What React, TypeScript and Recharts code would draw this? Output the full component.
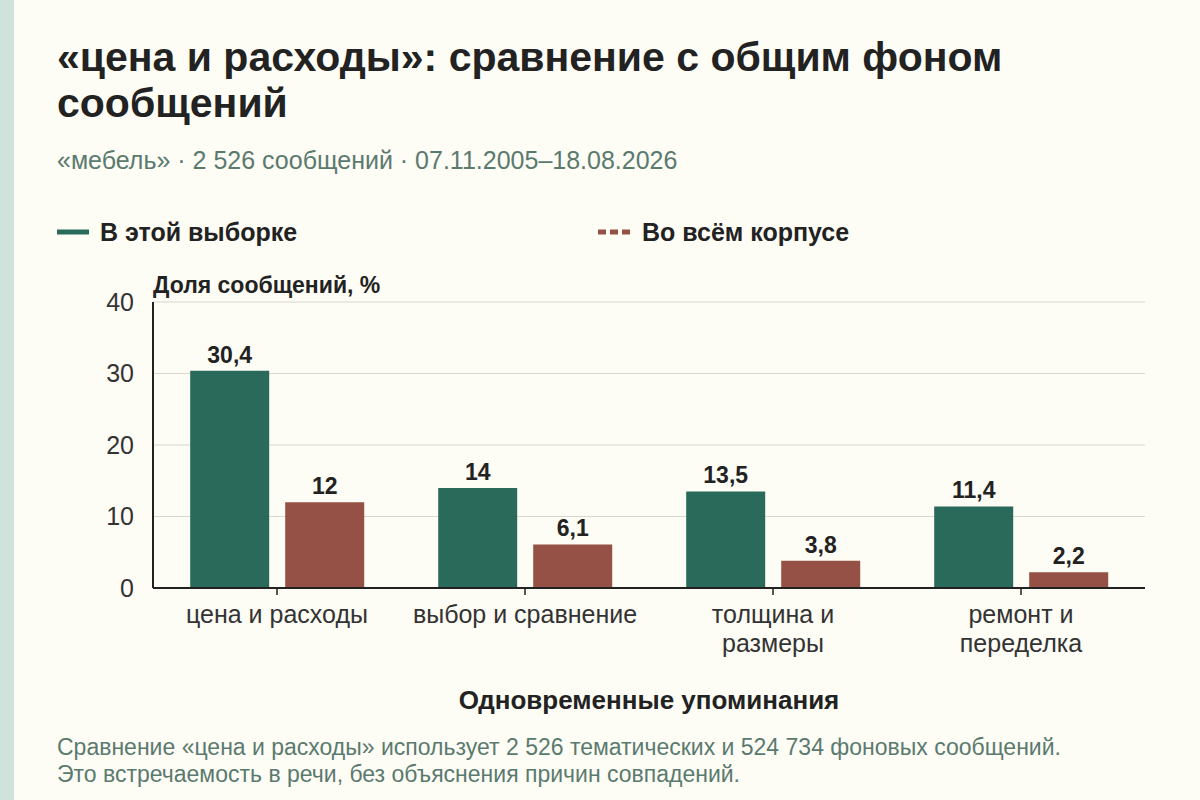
import React from "react";
import { BarChart, Bar, XAxis, YAxis, CartesianGrid, LabelList } from "recharts";

const categories = ["цена и расходы", "выбор и сравнение", "толщина и размеры", "ремонт и переделка"];
const categoryTickLines = [["цена и расходы"], ["выбор и сравнение"], ["толщина и", "размеры"], ["ремонт и", "переделка"]];
const sampleValues = [30.4, 14, 13.5, 11.4];
const corpusValues = [12, 6.1, 3.8, 2.2];
const yTicks = [0, 10, 20, 30, 40];

const data = categories.map((c, i) => ({ name: c, sample: sampleValues[i], corpus: corpusValues[i] }));

const FONT = "'Liberation Sans', Arial, Helvetica, sans-serif";
const GREEN = "#2a6a5a";
const RED = "#955146";
const BG = "#fdfcf5";
const MUTED = "#5b7a6f";

const fmt = (v: any) => String(v).replace(".", ",");

const CategoryTick = (props: any) => {
  const { x, y, payload, index } = props;
  const i = categories.indexOf(payload.value);
  const lines = categoryTickLines[i >= 0 ? i : index] || [String(payload.value)];
  return (
    <g>
      <line x1={x} x2={x} y1={y - 8} y2={y - 1} stroke="#222" strokeWidth={1.5} />
      <text
        x={x}
        y={y + 27}
        textAnchor="middle"
        fill="#333"
        style={{ fontFamily: FONT, fontSize: 25 }}
      >
        {lines.map((l: string, k: number) => (
          <tspan key={k} x={x} dy={k === 0 ? 0 : 29}>
            {l}
          </tspan>
        ))}
      </text>
    </g>
  );
};

export default function App() {
  return (
    <div
      style={{
        position: "absolute",
        left: 0,
        top: 0,
        width: 1200,
        height: 800,
        background: BG,
        fontFamily: FONT,
        overflow: "hidden",
      }}
    >
      <div style={{ position: "absolute", left: 0, top: 0, width: 14, height: 800, background: "#cfe2db" }} />
      <div
        style={{
          position: "absolute",
          left: 57,
          top: 34,
          width: 1090,
          fontSize: 41,
          fontWeight: 700,
          lineHeight: "46px",
          color: "#222",
        }}
      >
        «цена и расходы»: сравнение с общим фоном сообщений
      </div>
      <div style={{ position: "absolute", left: 57, top: 145, fontSize: 25, color: MUTED, lineHeight: "30px" }}>
        «мебель» · 2 526 сообщений · 07.11.2005–18.08.2026
      </div>
      <div style={{ position: "absolute", left: 57, top: 217, height: 30, display: "flex", alignItems: "center" }}>
        <svg width={32} height={10} style={{ marginRight: 11 }}>
          <line x1={0} x2={32} y1={5} y2={5} stroke={GREEN} strokeWidth={5} />
        </svg>
        <span style={{ fontSize: 25, fontWeight: 700, color: "#222" }}>В этой выборке</span>
      </div>
      <div style={{ position: "absolute", left: 598, top: 217, height: 30, display: "flex", alignItems: "center" }}>
        <svg width={32} height={10} style={{ marginRight: 12 }}>
          <line x1={0} x2={32} y1={5} y2={5} stroke={RED} strokeWidth={5} strokeDasharray="8 4" />
        </svg>
        <span style={{ fontSize: 25, fontWeight: 700, color: "#222" }}>Во всём корпусе</span>
      </div>
      <div style={{ position: "absolute", left: 153, top: 271, fontSize: 23, fontWeight: 700, color: "#222", lineHeight: "28px" }}>
        Доля сообщений, %
      </div>
      <div style={{ position: "absolute", left: 0, top: 0 }}>
        <BarChart
          width={1200}
          height={700}
          data={data}
          margin={{ top: 302, right: 55, bottom: 32, left: 93 }}
          barCategoryGap="15%"
          barGap={16}
        >
          <CartesianGrid vertical={false} stroke="#d9d8cf" strokeWidth={1.2} />
          <XAxis
            dataKey="name"
            height={80}
            axisLine={{ stroke: "#222", strokeWidth: 2 }}
            tickLine={false}
            tick={<CategoryTick />}
            interval={0}
          />
          <YAxis
            width={60}
            domain={[0, 40]}
            ticks={yTicks}
            axisLine={{ stroke: "#222", strokeWidth: 2 }}
            tickLine={false}
            tickMargin={13}
            tick={{ fill: "#333", fontSize: 25, fontFamily: FONT }}
          />
          <Bar dataKey="sample" fill={GREEN} isAnimationActive={false}>
            <LabelList
              dataKey="sample"
              position="top"
              offset={8}
              formatter={fmt}
              style={{ fontFamily: FONT, fontSize: 23, fontWeight: 700, fill: "#222" }}
            />
          </Bar>
          <Bar dataKey="corpus" fill={RED} isAnimationActive={false}>
            <LabelList
              dataKey="corpus"
              position="top"
              offset={8}
              formatter={fmt}
              style={{ fontFamily: FONT, fontSize: 23, fontWeight: 700, fill: "#222" }}
            />
          </Bar>
        </BarChart>
      </div>
      <div
        style={{
          position: "absolute",
          left: 153,
          width: 992,
          top: 685,
          textAlign: "center",
          fontSize: 26,
          fontWeight: 700,
          color: "#222",
          lineHeight: "30px",
        }}
      >
        Одновременные упоминания
      </div>
      <div style={{ position: "absolute", left: 57, top: 734, fontSize: 23, color: MUTED, lineHeight: "27px" }}>
        Сравнение «цена и расходы» использует 2 526 тематических и 524 734 фоновых сообщений.
        <br />
        Это встречаемость в речи, без объяснения причин совпадений.
      </div>
    </div>
  );
}
